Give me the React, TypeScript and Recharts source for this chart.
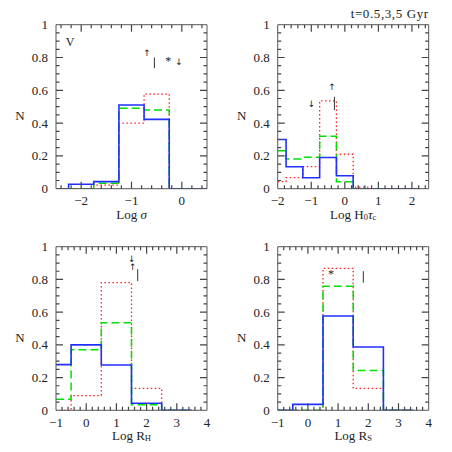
import React from 'react';
import { LineChart, Line, XAxis, YAxis, ReferenceLine, ReferenceDot } from 'recharts';

// bin edges + per-bin values (one value per bin)
const sigmaEdges = [-2.5, -2.25, -1.75, -1.25, -0.75, -0.25, 0.25, 0.5];
const sigmaBlue = [0, 0.027, 0.043, 0.51, 0.423, 0, 0];
const sigmaGreen = [0, 0, 0.033, 0.49, 0.48, 0, 0];
const sigmaRed = [0, 0, 0.022, 0.4, 0.577, 0, 0];

const tauEdges = [-2, -1.75, -1.25, -0.75, -0.25, 0.25, 0.75, 1.25, 1.75, 2.25];
const tauBlue = [0.3, 0.134, 0.067, 0.19, 0.079, 0, 0, 0, 0];
const tauGreen = [0.232, 0.181, 0.191, 0.32, 0.043, 0, 0, 0, 0];
const tauRed = [0.043, 0.067, 0.134, 0.535, 0.21, 0.01, 0, 0, 0];

const rhEdges = [-1, -0.5, 0.5, 1.5, 2.5, 3.5];
const rhBlue = [0.279, 0.4, 0.277, 0.043, 0];
const rhGreen = [0.067, 0.37, 0.535, 0.034, 0];
const rhRed = [0, 0.09, 0.78, 0.134, 0];

const rsEdges = [-1, -0.5, 0.5, 1.5, 2.5, 3.5];
const rsBlue = [0, 0.036, 0.576, 0.387, 0];
const rsGreen = [0, 0, 0.758, 0.244, 0];
const rsRed = [0, 0, 0.868, 0.134, 0];

const yMajor = [0, 0.2, 0.4, 0.6, 0.8, 1];
const sigmaTicks = [-2, -1, 0];
const tauTicks = [-2, -1, 0, 1, 2];
const rTicks = [-1, 0, 1, 2, 3, 4];

const FONT = '"Liberation Serif", "DejaVu Serif", serif';
const ARROW = '"DejaVu Sans", sans-serif';
const INK = '#222';
const FRAME = '#555';
const TICK = '#444';
const THIN = 0.01; // axes need a non-zero box to render
const SIZE = 226;

function minor(lo: number, hi: number, step: number, majors: number[]) {
  const out: number[] = [];
  for (let k = Math.ceil(lo / step - 1e-9); k * step <= hi + 1e-9; k++) {
    const v = Math.round(k * step * 1000) / 1000;
    if (!majors.some((m) => Math.abs(m - v) < 1e-6) && v > lo + 1e-6 && v < hi - 1e-6) out.push(v);
  }
  return out;
}

function rows(edges: number[], blue: number[], green: number[], red: number[]) {
  return edges.map((x, i) => {
    const j = Math.min(i, blue.length - 1);
    return { x, blue: blue[j], green: green[j], red: red[j] };
  });
}

type Mark = { x: number; y: number; t: string; size?: number; font?: string };
type Bar = { x: number; y1: number; y2: number };

interface PanelProps {
  left: number;
  top: number;
  margin: { top: number; right: number; bottom: number; left: number };
  edges: number[];
  blue: number[];
  green: number[];
  red: number[];
  domain: [number, number];
  ticks: number[];
  xLabel: React.ReactNode;
  marks: Mark[];
  bars: Bar[];
  title?: string;
}

const fmt = (v: number) => String(v).replace('-', '\u2212');
const has = (arr: number[], v: number) => arr.some((m) => Math.abs(m - v) < 1e-6);

function Panel(p: PanelProps) {
  const data = rows(p.edges, p.blue, p.green, p.red);
  const [lo, hi] = p.domain;
  const xMinor = minor(lo, hi, 0.2, p.ticks);
  const yMinor = minor(0, 1, 0.05, yMajor);
  const xAll = [...p.ticks, ...xMinor].sort((a, b) => a - b);
  const yAll = [...yMajor, ...yMinor].sort((a, b) => a - b);
  const plotW = SIZE - p.margin.left - p.margin.right;
  const plotH = SIZE - p.margin.top - p.margin.bottom;

  // bottom axis tick: inward marks on bottom + top frame, label on majors
  const xTick = (tp: any) => {
    const v = tp.payload.value;
    const major = has(p.ticks, v);
    const edge = Math.abs(v - lo) < 1e-6 || Math.abs(v - hi) < 1e-6;
    const len = major ? 7 : 3.5;
    return (
      <g>
        {!edge && (
          <path d={`M${tp.x},${tp.y}v${-len}M${tp.x},${tp.y - plotH}v${len}`} stroke={TICK} strokeWidth={1.2} fill="none" />
        )}
        {major && (
          <text x={tp.x} y={tp.y + 12} textAnchor="middle" dominantBaseline="central"
            fontFamily={FONT} fontSize={13} fill={INK}>{fmt(v)}</text>
        )}
      </g>
    );
  };
  // left axis tick: inward marks on left + right frame, label on majors
  const yTick = (tp: any) => {
    const v = tp.payload.value;
    const major = has(yMajor, v);
    const edge = v <= 1e-6 || v >= 1 - 1e-6;
    const len = major ? 7 : 3.5;
    return (
      <g>
        {!edge && (
          <path d={`M${tp.x},${tp.y}h${len}M${tp.x + plotW},${tp.y}h${-len}`} stroke={TICK} strokeWidth={1.2} fill="none" />
        )}
        {major && (
          <text x={tp.x - 8} y={tp.y} textAnchor="end" dominantBaseline="central"
            fontFamily={FONT} fontSize={13} fill={INK}>{String(v)}</text>
        )}
      </g>
    );
  };

  return (
    <div style={{ position: 'absolute', left: p.left, top: p.top }}>
      <LineChart width={SIZE} height={SIZE} data={data} margin={p.margin}>
        <XAxis
          xAxisId="b" dataKey="x" type="number" domain={p.domain} allowDataOverflow
          ticks={xAll} interval={0} height={THIN} tickSize={0} tickLine={false} tickMargin={0}
          tick={xTick} axisLine={{ stroke: FRAME }}
          label={{
            content: (lp: any) => {
              const vb = lp.viewBox;
              return (
                <text x={vb.x + vb.width / 2} y={vb.y + 25} textAnchor="middle" dominantBaseline="central"
                  fontFamily={FONT} fontSize={13} fill={INK}>
                  {p.xLabel}
                </text>
              );
            },
          }}
        />
        <XAxis xAxisId="t" orientation="top" type="number" domain={p.domain} allowDataOverflow ticks={p.ticks}
          interval={0} height={THIN} tickSize={0} tickLine={false} tick={false} axisLine={{ stroke: FRAME }}
          label={p.title ? {
            content: (lp: any) => {
              const vb = lp.viewBox;
              return (
                <text x={vb.x + vb.width} y={vb.y - 11} textAnchor="end" dominantBaseline="central"
                  fontFamily={FONT} fontSize={13} letterSpacing={0.6} fill={INK}>{p.title}</text>
              );
            },
          } : undefined}
        />
        <YAxis
          yAxisId="l" type="number" domain={[0, 1]} allowDataOverflow ticks={yAll} interval={0}
          width={THIN} tickSize={0} tickLine={false} tickMargin={0} tick={yTick} axisLine={{ stroke: FRAME }}
          label={{
            content: (lp: any) => {
              const vb = lp.viewBox;
              return (
                <text x={vb.x - 36} y={vb.y + vb.height / 2 + 9} textAnchor="middle" dominantBaseline="central"
                  fontFamily={FONT} fontSize={13} fill={INK}>N</text>
              );
            },
          }}
        />
        <YAxis yAxisId="r" orientation="right" type="number" domain={[0, 1]} allowDataOverflow ticks={yMajor}
          interval={0} width={THIN} tickSize={0} tickLine={false} tick={false} axisLine={{ stroke: FRAME }} />

        <Line xAxisId="b" yAxisId="l" type="stepAfter" dataKey="red" stroke="#ff2020" strokeWidth={1.3}
          strokeDasharray="1.5 2.5" dot={false} isAnimationActive={false} />
        <Line xAxisId="b" yAxisId="l" type="stepAfter" dataKey="green" stroke="#00e000" strokeWidth={1.5}
          strokeDasharray="8 4" dot={false} isAnimationActive={false} />
        <Line xAxisId="b" yAxisId="l" type="stepAfter" dataKey="blue" stroke="#2030ff" strokeWidth={1.6}
          dot={false} isAnimationActive={false} />

        {p.bars.map((b, i) => (
          <ReferenceLine key={'b' + i} xAxisId="b" yAxisId="l" stroke="#333" strokeWidth={1}
            segment={[{ x: b.x, y: b.y1 }, { x: b.x, y: b.y2 }]} />
        ))}
        {p.marks.map((m, i) => (
          <ReferenceDot key={'m' + i} xAxisId="b" yAxisId="l" x={m.x} y={m.y} r={0}
            shape={(sp: any) => (
              <text x={sp.cx} y={sp.cy} textAnchor="middle" dominantBaseline="central"
                fontFamily={m.font ?? FONT} fontSize={m.size ?? 11} fill={INK}>{m.t}</text>
            )}
          />
        ))}
      </LineChart>
    </div>
  );
}

const sub = (s: string) => <tspan dy={3} fontSize={8.5}>{s}</tspan>;

export default function App() {
  return (
    <div style={{ position: 'absolute', left: 0, top: 0, width: 452, height: 452, background: '#fff' }}>
      <Panel
        left={0} top={0} margin={{ top: 24.7, right: 19, bottom: 37.3, left: 56 }}
        edges={sigmaEdges} blue={sigmaBlue} green={sigmaGreen} red={sigmaRed}
        domain={[-2.5, 0.5]} ticks={sigmaTicks}
        xLabel={<><tspan>Log  </tspan><tspan fontStyle="italic">σ</tspan></>}
        marks={[
          { x: -2.22, y: 0.895, t: 'V', size: 12 },
          { x: -0.69, y: 0.83, t: '↑', size: 9, font: ARROW },
          { x: -0.27, y: 0.78, t: '*', size: 12 },
          { x: -0.055, y: 0.77, t: '↓', size: 9, font: ARROW },
        ]}
        bars={[{ x: -0.545, y1: 0.8, y2: 0.735 }]}
      />
      <Panel
        left={226} top={0} margin={{ top: 24.7, right: 23.3, bottom: 37.3, left: 51.7 }}
        edges={tauEdges} blue={tauBlue} green={tauGreen} red={tauRed}
        domain={[-2, 2.5]} ticks={tauTicks} title="t=0.5,3,5  Gyr"
        xLabel={<><tspan>Log  H</tspan>{sub('0')}<tspan dy={-3} fontStyle="italic">τ</tspan>{sub('c')}</>}
        marks={[
          { x: -0.99, y: 0.516, t: '↓', size: 9, font: ARROW },
          { x: -0.38, y: 0.62, t: '↑', size: 9, font: ARROW },
        ]}
        bars={[{ x: -0.31, y1: 0.56, y2: 0.48 }]}
      />
      <Panel
        left={0} top={226} margin={{ top: 20.7, right: 19, bottom: 41.7, left: 56 }}
        edges={rhEdges} blue={rhBlue} green={rhGreen} red={rhRed}
        domain={[-1, 4]} ticks={rTicks}
        xLabel={<><tspan>Log  R</tspan>{sub('H')}</>}
        marks={[
          { x: 1.51, y: 0.924, t: '↓', size: 9, font: ARROW },
          { x: 1.54, y: 0.877, t: '↑', size: 9, font: ARROW },
        ]}
        bars={[{ x: 1.705, y1: 0.863, y2: 0.79 }]}
      />
      <Panel
        left={226} top={226} margin={{ top: 20.7, right: 23.3, bottom: 41.7, left: 51.7 }}
        edges={rsEdges} blue={rsBlue} green={rsGreen} red={rsRed}
        domain={[-1, 4]} ticks={rTicks}
        xLabel={<><tspan>Log  R</tspan>{sub('S')}</>}
        marks={[{ x: 0.765, y: 0.834, t: '*', size: 12 }]}
        bars={[{ x: 1.835, y1: 0.85, y2: 0.78 }]}
      />
    </div>
  );
}
